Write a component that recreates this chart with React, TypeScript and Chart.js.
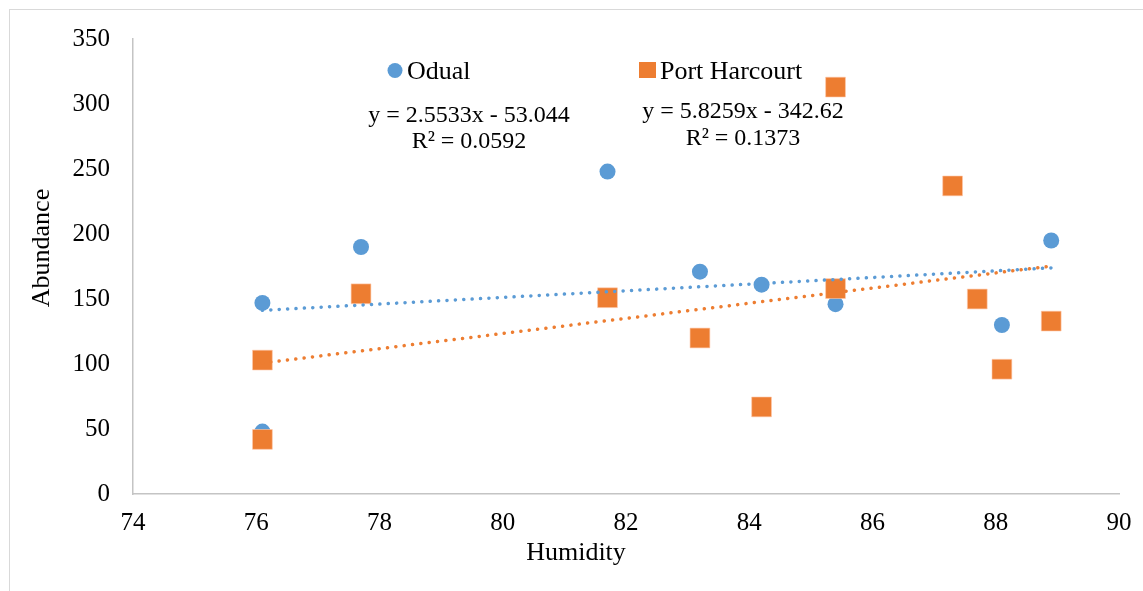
import React, { useEffect, useRef } from "react";
import { Chart, registerables } from "chart.js";

Chart.register(...registerables);

const odualHumidity = [76.1, 76.1, 77.7, 81.7, 83.2, 84.2, 85.4, 88.1, 88.9];
const odualAbundance = [147, 48, 190, 248, 171, 161, 146, 130, 195];

const phHumidity = [76.1, 76.1, 77.7, 81.7, 83.2, 84.2, 85.4, 85.4, 87.3, 87.7, 88.1, 88.9];
const phAbundance = [103, 42, 154, 151, 120, 67, 313, 158, 237, 150, 96, 133];

const odualTrend = [2.5533, -53.044]; // slope, intercept
const phTrend = [5.8259, -342.62];

const odualEquation = ["y = 2.5533x - 53.044", "R² = 0.0592"];
const phEquation = ["y = 5.8259x - 342.62", "R² = 0.1373"];

const seriesNames = ["Odual", "Port Harcourt"];
const xTitle = "Humidity";
const yTitle = "Abundance";

const xTicks = [74, 76, 78, 80, 82, 84, 86, 88, 90];
const yTicks = [0, 50, 100, 150, 200, 250, 300, 350];

const BLUE = "#5B9BD5";
const ORANGE = "#ED7D31";
const FONT = "'Liberation Serif', 'Times New Roman', serif";

function trendPoints(xs: number[], coef: number[]) {
  const lo = Math.min(...xs);
  const hi = Math.max(...xs);
  return [
    { x: lo, y: coef[0] * lo + coef[1] },
    { x: hi, y: coef[0] * hi + coef[1] },
  ];
}

const annotationPlugin = {
  id: "annotations",
  afterDraw(chart: any) {
    const ctx = chart.ctx;
    ctx.save();
    // legend
    ctx.fillStyle = BLUE;
    ctx.beginPath();
    ctx.arc(395, 70.5, 7.5, 0, Math.PI * 2);
    ctx.fill();
    ctx.fillStyle = ORANGE;
    ctx.fillRect(639, 62, 17, 16);
    ctx.fillStyle = "#000";
    ctx.font = `26px ${FONT}`;
    ctx.textBaseline = "alphabetic";
    ctx.textAlign = "left";
    ctx.fillText(seriesNames[0], 407, 79);
    ctx.fillText(seriesNames[1], 660, 79);
    // equations
    ctx.font = `24px ${FONT}`;
    ctx.textAlign = "center";
    ctx.fillText(odualEquation[0], 469, 122);
    ctx.fillText(odualEquation[1], 469, 148);
    ctx.fillText(phEquation[0], 743, 118);
    ctx.fillText(phEquation[1], 743, 145);
    // axis titles
    ctx.font = `26px ${FONT}`;
    ctx.textBaseline = "middle";
    ctx.fillText(xTitle, 576, 553);
    ctx.translate(42, 248);
    ctx.rotate(-Math.PI / 2);
    ctx.fillText(yTitle, 0, 0);
    ctx.restore();
  },
};

export default function App() {
  const ref = useRef<HTMLCanvasElement | null>(null);

  useEffect(() => {
    if (!ref.current) return;
    const chart = new Chart(ref.current, {
      type: "scatter",
      data: {
        datasets: [
          {
            label: "Port Harcourt trend",
            type: "line",
            data: trendPoints(phHumidity, phTrend),
            borderColor: ORANGE,
            borderWidth: 3.5,
            borderDash: [0.1, 8.3],
            borderCapStyle: "round",
            pointRadius: 0,
            fill: false,
            order: 0,
          } as any,
          {
            label: "Odual trend",
            type: "line",
            data: trendPoints(odualHumidity, odualTrend),
            borderColor: BLUE,
            borderWidth: 3.5,
            borderDash: [0.1, 8.3],
            borderCapStyle: "round",
            pointRadius: 0,
            fill: false,
            order: 0,
          } as any,
          {
            label: seriesNames[1],
            data: phHumidity.map((x, i) => ({ x, y: phAbundance[i] })),
            pointStyle: "rect",
            pointRadius: 14,
            pointBackgroundColor: ORANGE,
            pointBorderColor: "rgba(255,200,170,0.6)",
            pointBorderWidth: 1,
            order: 1,
          },
          {
            label: seriesNames[0],
            data: odualHumidity.map((x, i) => ({ x, y: odualAbundance[i] })),
            pointStyle: "circle",
            pointRadius: 8,
            pointBackgroundColor: BLUE,
            pointBorderColor: BLUE,
            pointBorderWidth: 0,
            order: 2,
          },
        ],
      },
      options: {
        responsive: false,
        animation: false,
        devicePixelRatio: 1,
        layout: { padding: { left: 0, top: 39, right: 24, bottom: 0 } },
        plugins: {
          legend: { display: false },
          tooltip: { enabled: false },
        },
        scales: {
          x: {
            type: "linear",
            min: xTicks[0],
            max: xTicks[xTicks.length - 1],
            afterBuildTicks: (scale: any) => {
              scale.ticks = xTicks.map((v) => ({ value: v }));
            },
            afterFit: (scale: any) => {
              scale.height = 97;
              scale.paddingLeft = 0;
              scale.paddingRight = 0;
            },
            grid: { display: false, drawTicks: false },
            border: { display: true, color: "#c4c4c4", width: 1.5 },
            ticks: {
              color: "#000",
              padding: 14,
              maxRotation: 0,
              font: { family: FONT, size: 25 },
            },
          },
          y: {
            type: "linear",
            min: yTicks[0],
            max: yTicks[yTicks.length - 1],
            afterBuildTicks: (scale: any) => {
              scale.ticks = yTicks.map((v) => ({ value: v }));
            },
            afterFit: (scale: any) => {
              scale.width = 133;
              scale.paddingTop = 0;
              scale.paddingBottom = 0;
            },
            grid: { display: false, drawTicks: false },
            border: { display: true, color: "#c4c4c4", width: 1.5 },
            ticks: {
              color: "#000",
              padding: 23,
              font: { family: FONT, size: 25 },
            },
          },
        },
      },
      plugins: [annotationPlugin],
    });
    return () => chart.destroy();
  }, []);

  return (
    <div
      style={{
        position: "fixed",
        left: 0,
        top: 0,
        width: 1143,
        height: 591,
        overflow: "hidden",
        background: "#fff",
      }}
    >
      <div
        style={{
          position: "absolute",
          left: 9,
          top: 9,
          width: 1300,
          height: 800,
          border: "1px solid #d9d9d9",
        }}
      />
      <canvas
        ref={ref}
        width={1143}
        height={591}
        style={{ position: "absolute", left: 0, top: 0, width: 1143, height: 591 }}
      />
    </div>
  );
}
